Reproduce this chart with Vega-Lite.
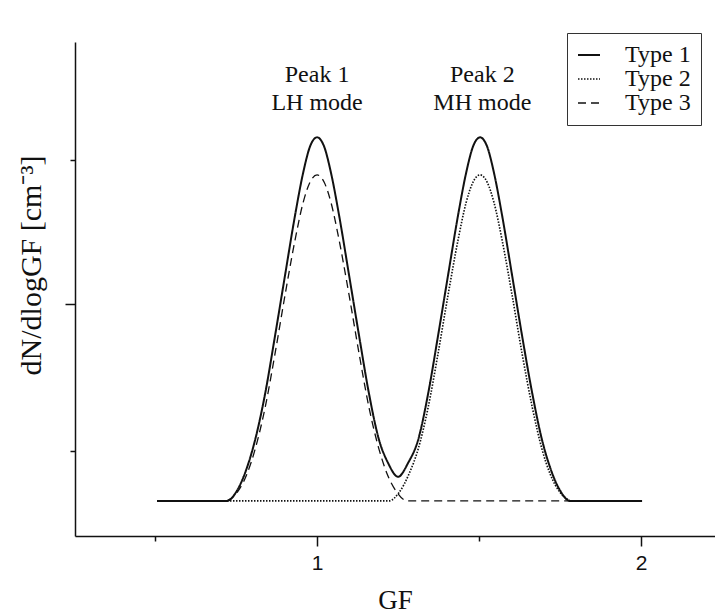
{
  "$schema": "https://vega.github.io/schema/vega-lite/v6.json",
  "width": 640,
  "height": 494,
  "autosize": {"type": "none"},
  "padding": {"left": 75, "top": 42, "right": 0, "bottom": 80},
  "background": "white",
  "config": {"view": {"stroke": null}, "font": "Liberation Serif"},
  "datasets": {
    "curves": [
      {"type": "Type 1", "gf": 0.506, "v": 7.1},
      {"type": "Type 1", "gf": 0.722, "v": 7.1},
      {"type": "Type 1", "gf": 0.753, "v": 9.2},
      {"type": "Type 1", "gf": 0.784, "v": 13.9},
      {"type": "Type 1", "gf": 0.809, "v": 19.5},
      {"type": "Type 1", "gf": 0.84, "v": 28.9},
      {"type": "Type 1", "gf": 0.87, "v": 40.4},
      {"type": "Type 1", "gf": 0.901, "v": 52.7},
      {"type": "Type 1", "gf": 0.932, "v": 64.9},
      {"type": "Type 1", "gf": 0.957, "v": 73.5},
      {"type": "Type 1", "gf": 0.978, "v": 78.8},
      {"type": "Type 1", "gf": 1.0, "v": 80.7},
      {"type": "Type 1", "gf": 1.022, "v": 78.8},
      {"type": "Type 1", "gf": 1.043, "v": 73.5},
      {"type": "Type 1", "gf": 1.068, "v": 64.9},
      {"type": "Type 1", "gf": 1.099, "v": 52.7},
      {"type": "Type 1", "gf": 1.13, "v": 40.4},
      {"type": "Type 1", "gf": 1.16, "v": 28.9},
      {"type": "Type 1", "gf": 1.191, "v": 19.5},
      {"type": "Type 1", "gf": 1.219, "v": 14.8},
      {"type": "Type 1", "gf": 1.25, "v": 12.0},
      {"type": "Type 1", "gf": 1.281, "v": 14.8},
      {"type": "Type 1", "gf": 1.312, "v": 19.5},
      {"type": "Type 1", "gf": 1.343, "v": 28.9},
      {"type": "Type 1", "gf": 1.373, "v": 40.4},
      {"type": "Type 1", "gf": 1.404, "v": 52.7},
      {"type": "Type 1", "gf": 1.435, "v": 64.9},
      {"type": "Type 1", "gf": 1.46, "v": 73.5},
      {"type": "Type 1", "gf": 1.481, "v": 78.8},
      {"type": "Type 1", "gf": 1.503, "v": 80.7},
      {"type": "Type 1", "gf": 1.525, "v": 78.8},
      {"type": "Type 1", "gf": 1.546, "v": 73.5},
      {"type": "Type 1", "gf": 1.571, "v": 64.9},
      {"type": "Type 1", "gf": 1.602, "v": 52.7},
      {"type": "Type 1", "gf": 1.633, "v": 40.4},
      {"type": "Type 1", "gf": 1.664, "v": 28.9},
      {"type": "Type 1", "gf": 1.694, "v": 19.5},
      {"type": "Type 1", "gf": 1.719, "v": 13.9},
      {"type": "Type 1", "gf": 1.75, "v": 9.2},
      {"type": "Type 1", "gf": 1.781, "v": 7.1},
      {"type": "Type 1", "gf": 2.003, "v": 7.1},

      {"type": "Type 2", "gf": 0.722, "v": 7.1},
      {"type": "Type 2", "gf": 1.222, "v": 7.1},
      {"type": "Type 2", "gf": 1.253, "v": 8.8},
      {"type": "Type 2", "gf": 1.284, "v": 12.6},
      {"type": "Type 2", "gf": 1.312, "v": 17.6},
      {"type": "Type 2", "gf": 1.343, "v": 26.1},
      {"type": "Type 2", "gf": 1.373, "v": 36.8},
      {"type": "Type 2", "gf": 1.404, "v": 48.7},
      {"type": "Type 2", "gf": 1.435, "v": 59.9},
      {"type": "Type 2", "gf": 1.46, "v": 67.5},
      {"type": "Type 2", "gf": 1.481, "v": 71.6},
      {"type": "Type 2", "gf": 1.503, "v": 73.1},
      {"type": "Type 2", "gf": 1.525, "v": 71.6},
      {"type": "Type 2", "gf": 1.546, "v": 67.5},
      {"type": "Type 2", "gf": 1.571, "v": 59.9},
      {"type": "Type 2", "gf": 1.602, "v": 48.7},
      {"type": "Type 2", "gf": 1.633, "v": 36.8},
      {"type": "Type 2", "gf": 1.664, "v": 26.1},
      {"type": "Type 2", "gf": 1.694, "v": 17.6},
      {"type": "Type 2", "gf": 1.719, "v": 12.6},
      {"type": "Type 2", "gf": 1.75, "v": 8.8},
      {"type": "Type 2", "gf": 1.781, "v": 7.1},

      {"type": "Type 3", "gf": 0.722, "v": 7.1},
      {"type": "Type 3", "gf": 0.753, "v": 8.8},
      {"type": "Type 3", "gf": 0.784, "v": 12.6},
      {"type": "Type 3", "gf": 0.809, "v": 17.6},
      {"type": "Type 3", "gf": 0.84, "v": 26.1},
      {"type": "Type 3", "gf": 0.87, "v": 36.8},
      {"type": "Type 3", "gf": 0.901, "v": 48.7},
      {"type": "Type 3", "gf": 0.932, "v": 59.9},
      {"type": "Type 3", "gf": 0.957, "v": 67.5},
      {"type": "Type 3", "gf": 0.978, "v": 71.6},
      {"type": "Type 3", "gf": 1.0, "v": 73.1},
      {"type": "Type 3", "gf": 1.022, "v": 71.6},
      {"type": "Type 3", "gf": 1.043, "v": 67.5},
      {"type": "Type 3", "gf": 1.068, "v": 59.9},
      {"type": "Type 3", "gf": 1.099, "v": 48.7},
      {"type": "Type 3", "gf": 1.13, "v": 36.8},
      {"type": "Type 3", "gf": 1.16, "v": 26.1},
      {"type": "Type 3", "gf": 1.191, "v": 17.6},
      {"type": "Type 3", "gf": 1.216, "v": 12.6},
      {"type": "Type 3", "gf": 1.247, "v": 8.8},
      {"type": "Type 3", "gf": 1.278, "v": 7.1},
      {"type": "Type 3", "gf": 1.843, "v": 7.1}
    ],
    "labels": [
      {"gf": 1.0, "v": 93.3, "text": "Peak 1"},
      {"gf": 1.0, "v": 87.6, "text": "LH mode"},
      {"gf": 1.51, "v": 93.3, "text": "Peak 2"},
      {"gf": 1.51, "v": 87.6, "text": "MH mode"}
    ]
  },
  "layer": [
    {
      "data": {"name": "curves"},
      "mark": {"type": "line", "interpolate": "monotone", "color": "#111"},
      "encoding": {
        "x": {
          "field": "gf", "type": "quantitative",
          "scale": {"domain": [0.253, 2.228], "nice": false, "zero": false},
          "axis": {
            "title": "GF", "titleFont": "Liberation Serif", "titleFontSize": 27, "titleFontWeight": "normal",
            "titleColor": "#111", "titlePadding": 14,
            "values": [0.5, 1, 1.5, 2],
            "labelExpr": "datum.value == 1 ? '1' : datum.value == 2 ? '2' : ''",
            "labelFont": "Liberation Sans", "labelFontSize": 21, "labelColor": "#111", "labelPadding": 6,
            "tickSize": {"condition": {"test": "datum.value == 1 || datum.value == 2", "value": 10}, "value": 5},
            "tickColor": "#111", "tickWidth": 1.5,
            "domainColor": "#111", "domainWidth": 1.5, "grid": false
          }
        },
        "y": {
          "field": "v", "type": "quantitative",
          "scale": {"domain": [0, 100], "nice": false, "zero": false},
          "axis": {
            "title": "dN/dlogGF [cm⁻³]", "titleFont": "Liberation Serif", "titleFontSize": 30, "titleFontWeight": "normal",
            "titleColor": "#111", "titleX": -44, "titleY": 223, "titleBaseline": "middle", "titleAngle": -90,
            "values": [17.2, 47.0, 76.1], "labels": false,
            "tickSize": {"condition": {"test": "datum.value == 47", "value": 10}, "value": 5},
            "tickColor": "#111", "tickWidth": 1.5,
            "domainColor": "#111", "domainWidth": 1.5, "grid": false
          }
        },
        "strokeDash": {
          "field": "type", "type": "nominal",
          "scale": {"domain": ["Type 1", "Type 2", "Type 3"], "range": [[1, 0], [1.5, 1.5], [8, 5]]},
          "legend": {
            "title": null, "orient": "none", "legendX": 492, "legendY": -9,
            "strokeColor": "#333", "fillColor": "white", "padding": 10,
            "labelFont": "Liberation Serif", "labelFontSize": 24, "labelColor": "#111", "labelOffset": 24,
            "symbolType": "stroke", "symbolSize": 484, "symbolStrokeColor": "#111", "symbolStrokeWidth": 1.6,
            "rowPadding": 0
          }
        },
        "strokeWidth": {
          "field": "type", "type": "nominal",
          "scale": {"domain": ["Type 1", "Type 2", "Type 3"], "range": [2, 1.3, 1.6]},
          "legend": null
        }
      }
    },
    {
      "data": {"name": "labels"},
      "mark": {"type": "text", "font": "Liberation Serif", "fontSize": 24, "color": "#111"},
      "encoding": {
        "x": {"field": "gf", "type": "quantitative"},
        "y": {"field": "v", "type": "quantitative"},
        "text": {"field": "text"}
      }
    }
  ]
}
